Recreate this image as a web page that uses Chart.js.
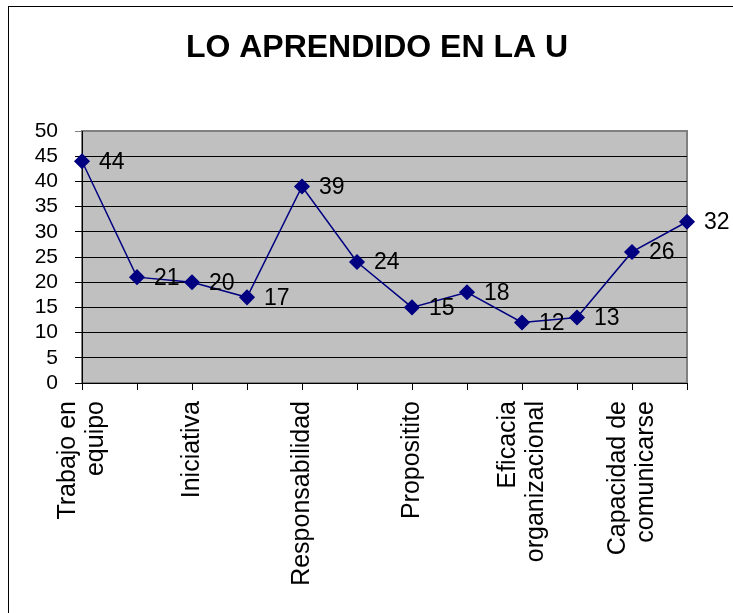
<!DOCTYPE html>
<html>
<head>
<meta charset="utf-8">
<script src="https://cdn.jsdelivr.net/npm/chart.js@4.4.1/dist/chart.umd.min.js"></script>
<style>
  body { margin: 0; background: #fff; }
  #frame { position: absolute; left: 8px; top: 6px; width: 760px; height: 660px; border: 1px solid #000; }
  #wrap { position: absolute; left: 0; top: 0; width: 733px; height: 613px; }
</style>
</head>
<body>
<div id="frame"></div>
<div id="wrap"><canvas id="chart"></canvas></div>
<script>
// categories (only every other label is shown in the original)
const categories = [
  ['Trabajo en', 'equipo'], '', 'Iniciativa', '', 'Responsabilidad', '',
  'Propositito', '', ['Eficacia', 'organizacional'], '', ['Capacidad de', 'comunicarse'], ''
];
const values = [44, 21, 20, 17, 39, 24, 15, 18, 12, 13, 26, 32];
const yTicks = [0, 5, 10, 15, 20, 25, 30, 35, 40, 45, 50];
const chartTitle = 'LO APRENDIDO EN LA U';

const fontFamily = 'Liberation Sans, Arial, sans-serif';

// grey plot area with grey border, plus the title
const plotBackground = {
  id: 'plotBackground',
  beforeDraw(chart) {
    const { ctx, chartArea } = chart;
    ctx.save();
    ctx.fillStyle = '#c0c0c0';
    ctx.fillRect(chartArea.left, chartArea.top, chartArea.width, chartArea.height);
    ctx.strokeStyle = '#808080';
    ctx.lineWidth = 2;
    ctx.strokeRect(chartArea.left, chartArea.top, chartArea.width, chartArea.height);

    ctx.font = 'bold 32px ' + fontFamily;
    ctx.fillStyle = '#000';
    ctx.textAlign = 'center';
    ctx.textBaseline = 'middle';
    ctx.fillText(chartTitle, 377, 48);
    ctx.restore();
  }
};

// rotated category labels, lines centred on the tick
const categoryLabels = {
  id: 'categoryLabels',
  afterDraw(chart) {
    const { ctx } = chart;
    const xScale = chart.scales.x;
    const top = xScale.top + 18;
    const lineGap = 28;
    ctx.save();
    ctx.font = '25px ' + fontFamily;
    ctx.fillStyle = '#000';
    ctx.textAlign = 'right';
    ctx.textBaseline = 'middle';
    categories.forEach((label, i) => {
      const lines = Array.isArray(label) ? label : [label];
      const x = xScale.getPixelForTick(i);
      lines.forEach((line, j) => {
        if (!line) return;
        const lx = x + (j - (lines.length - 1) / 2) * lineGap;
        ctx.save();
        ctx.translate(lx, top);
        ctx.rotate(-Math.PI / 2);
        ctx.fillText(line, 0, 0);
        ctx.restore();
      });
    });
    ctx.restore();
  }
};

// value labels to the right of each point
const valueLabels = {
  id: 'valueLabels',
  afterDatasetsDraw(chart) {
    const { ctx } = chart;
    const meta = chart.getDatasetMeta(0);
    ctx.save();
    ctx.font = '23px ' + fontFamily;
    ctx.fillStyle = '#000';
    ctx.textAlign = 'left';
    ctx.textBaseline = 'middle';
    meta.data.forEach((pt, i) => {
      ctx.fillText(String(values[i]), pt.x + 17, pt.y + 1);
    });
    ctx.restore();
  }
};

new Chart(document.getElementById('chart'), {
  type: 'line',
  data: {
    labels: categories,
    datasets: [{
      data: values,
      borderColor: '#000080',
      backgroundColor: '#000080',
      borderWidth: 1.5,
      pointStyle: 'rectRot',
      pointRadius: 7,
      pointHoverRadius: 7,
      tension: 0
    }]
  },
  options: {
    responsive: true,
    maintainAspectRatio: false,
    animation: false,
    layout: { padding: { left: 0, right: 46, top: 131, bottom: 0 } },
    plugins: {
      legend: { display: false },
      tooltip: { enabled: false },
      title: { display: false }
    },
    scales: {
      x: {
        offset: false,
        grid: { display: true, drawOnChartArea: false, drawTicks: true, tickLength: 7, color: '#000' },
        border: { color: '#000', width: 1 },
        ticks: { display: false, autoSkip: false },
        afterFit(scale) { scale.height = 230; }
      },
      y: {
        min: 0,
        max: 50,
        afterBuildTicks(scale) { scale.ticks = yTicks.map(v => ({ value: v })); },
        grid: {
          color: ctx => (ctx.tick && ctx.tick.value === 50 ? '#808080' : '#000'),
          lineWidth: 1,
          tickLength: 7
        },
        border: { color: '#000', width: 1 },
        ticks: {
          autoSkip: false,
          stepSize: 5,
          padding: 17,
          color: '#000',
          font: { size: 21, family: fontFamily }
        },
        afterFit(scale) { scale.width = 82; }
      }
    }
  },
  plugins: [plotBackground, categoryLabels, valueLabels]
});
</script>
</body>
</html>
